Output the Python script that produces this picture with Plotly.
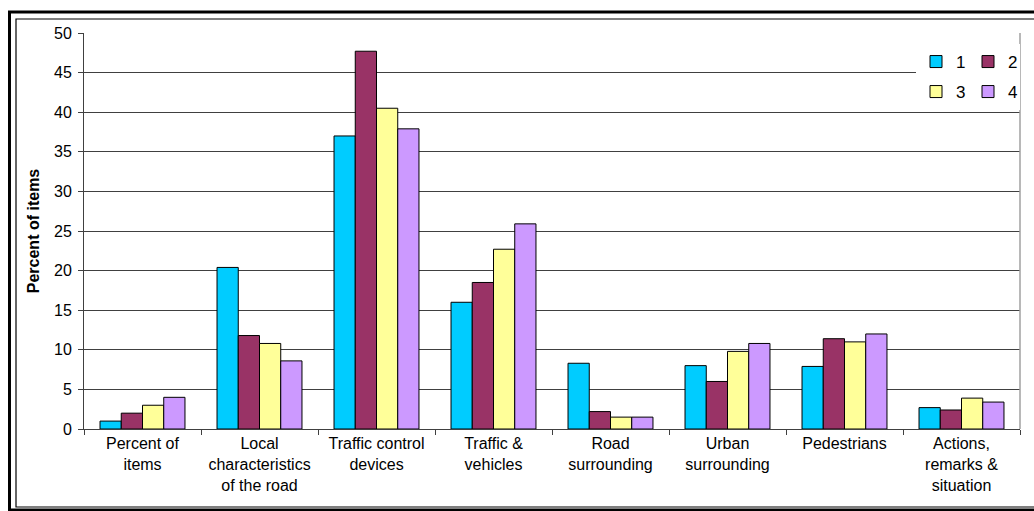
import plotly.graph_objects as go

categories = ["Percent of<br>items", "Local<br>characteristics<br>of the road",
              "Traffic control<br>devices", "Traffic &<br>vehicles",
              "Road<br>surrounding", "Urban<br>surrounding", "Pedestrians",
              "Actions,<br>remarks &<br>situation"]
series_names = ["1", "2", "3", "4"]
s1 = [1.0, 20.4, 37.0, 16.0, 8.3, 8.0, 7.9, 2.7]
s2 = [2.0, 11.8, 47.7, 18.5, 2.2, 6.0, 11.4, 2.4]
s3 = [3.0, 10.8, 40.5, 22.7, 1.5, 9.8, 11.0, 3.9]
s4 = [4.0, 8.6, 37.9, 25.9, 1.5, 10.8, 12.0, 3.4]
y_ticks = [0, 5, 10, 15, 20, 25, 30, 35, 40, 45, 50]

colors = ["#00CCFF", "#993366", "#FFFF99", "#CC99FF"]
W, H = 1034, 511
L, R, T, B = 84, 14, 33, 82
PW, PH = W - L - R, H - T - B

def px_x(px):
    return (px - L) / PW

def px_y(py):
    return (H - B - py) / PH

FONT = "Liberation Sans, Arial, sans-serif"
fig = go.Figure()
for i, (name, vals) in enumerate(zip(series_names, [s1, s2, s3, s4])):
    fig.add_trace(go.Bar(
        x=categories, y=vals, name=name,
        marker=dict(color=colors[i], line=dict(color="#000000", width=1)),
        legend="legend" if i < 2 else "legend2",
    ))

legend_common = dict(orientation="h", xanchor="left", yanchor="middle",
                     bgcolor="#FFFFFF", borderwidth=0,
                     font=dict(family=FONT, size=17, color="#000000"),
                     entrywidth=7, itemwidth=30, tracegroupgap=0)
fig.update_layout(
    width=W, height=H,
    margin=dict(l=L, r=R, t=T, b=B, autoexpand=False),
    paper_bgcolor="#FFFFFF", plot_bgcolor="#FFFFFF",
    barmode="group", bargap=0.274, bargroupgap=0,
    font=dict(family=FONT, size=16, color="#000000"),
    legend=dict(x=px_x(916), y=px_y(62), **legend_common),
    legend2=dict(x=px_x(916), y=px_y(92), **legend_common),
    showlegend=True,
)
fig.update_xaxes(
    type="category", tickson="boundaries", ticks="outside", ticklen=5,
    tickcolor="#404040", showline=True, linecolor="#404040", linewidth=1,
    showgrid=False, tickfont=dict(family=FONT, size=16, color="#000000"),
    tickangle=0, automargin=False,
)
fig.update_yaxes(
    range=[0, 50], tickvals=y_ticks, ticks="outside", ticklen=5,
    tickcolor="#404040", showline=True, linecolor="#404040", linewidth=1,
    showgrid=True, gridcolor="#404040", gridwidth=1, zeroline=False,
    tickfont=dict(family=FONT, size=16, color="#000000"), ticklabelstandoff=3,
    title=dict(text="<b>Percent of items</b>", standoff=10,
               font=dict(family=FONT, size=16, color="#000000")),
    automargin=False,
)
# plot-area border (right and top)
fig.add_shape(type="line", xref="paper", yref="paper", x0=1, x1=1, y0=0, y1=1,
              line=dict(color="#A0A0A0", width=1.5), layer="above")
# outer chart frame (double line)
fig.add_shape(type="rect", xref="paper", yref="paper",
              x0=px_x(9.5), x1=px_x(1045), y0=px_y(12), y1=px_y(510),
              line=dict(color="#000000", width=3), fillcolor="rgba(0,0,0,0)")
fig.add_shape(type="rect", xref="paper", yref="paper",
              x0=px_x(16), x1=px_x(1045), y0=px_y(19), y1=px_y(507),
              line=dict(color="#000000", width=1.2), fillcolor="rgba(0,0,0,0)")

fig.write_html("out.html")
